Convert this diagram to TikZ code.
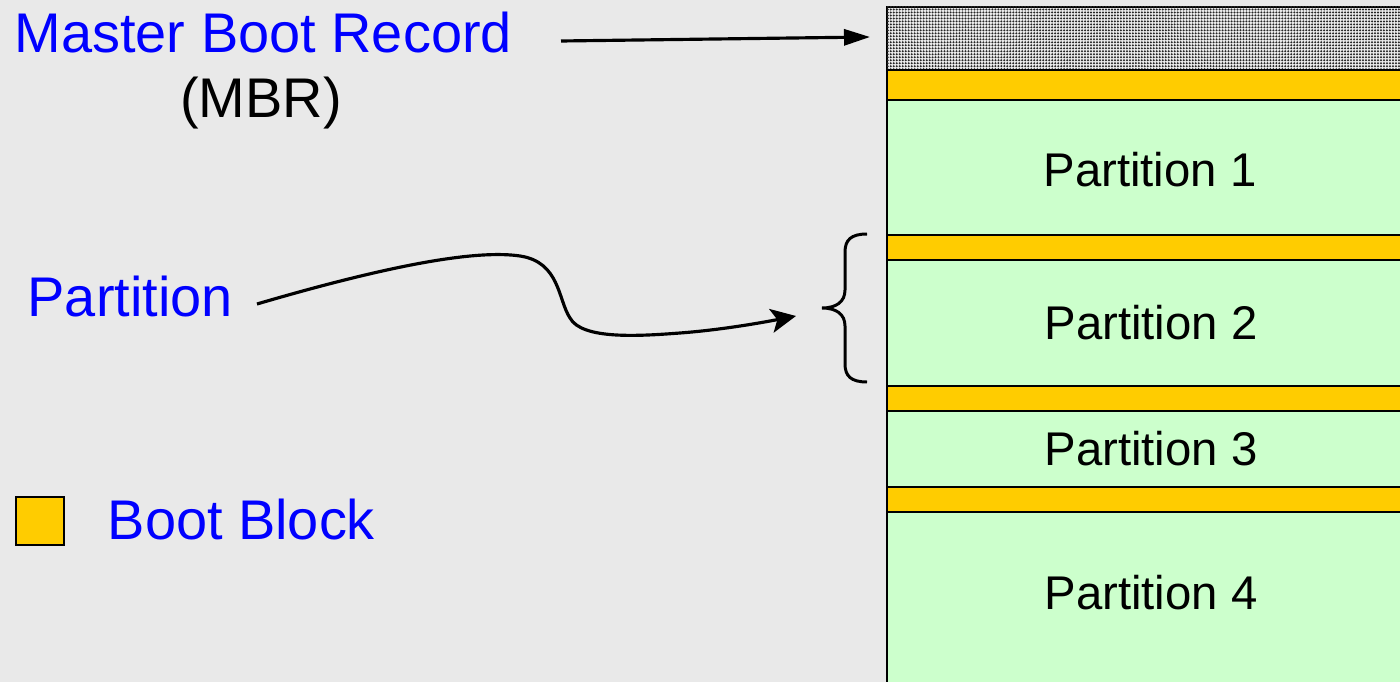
\documentclass[tikz,border=0pt]{standalone}
\usepackage{fontspec}
\setmainfont{Liberation Sans}
\usetikzlibrary{arrows.meta,fit,patterns.meta}
\definecolor{bg}{RGB}{233,233,233}
\definecolor{bootc}{RGB}{255,204,0}
\definecolor{partc}{RGB}{204,255,204}
\definecolor{lblue}{RGB}{0,0,255}
\begin{document}
\begin{tikzpicture}[x=0.01cm,y=-0.01cm,
  seg/.style={draw=black, line width=0.8pt, inner sep=0pt, outer sep=0pt},
  bootseg/.style={seg, fill=bootc},
  partseg/.style={seg, fill=partc},
  bluetxt/.style={text=lblue, font=\fontsize{15.9}{18}\selectfont, inner sep=0pt},
  blacktxt/.style={text=black, font=\fontsize{15.9}{18}\selectfont, inner sep=0pt},
  parttxt/.style={text=black, font=\fontsize{13.45}{16}\selectfont, inner sep=0pt, anchor=base},
  conn/.style={draw=black, line width=0.9pt},
  tipA/.style={-{Triangle[length=0.26cm,width=0.16cm]}},
  tipB/.style={-{Stealth[length=0.25cm,width=0.24cm,inset=0.06cm]}}]
\fill[bg] (0,0) rectangle (1400,682);
\useasboundingbox (0,0) rectangle (1400,682);
% disk column
\node[seg, fill=white!85!gray, postaction={pattern={Dots[distance=0.85pt,radius=0.32pt]}, pattern color=black!85}, fit={(887,7)(1420,70)}] (mbr) {};
\node[bootseg, fit={(887,70)(1420,100)}] (b1) {};
\node[partseg, fit={(887,100)(1420,235)}] (p1) {};
\node[bootseg, fit={(887,235)(1420,260)}] (b2) {};
\node[partseg, fit={(887,260)(1420,386)}] (p2) {};
\node[bootseg, fit={(887,386)(1420,411)}] (b3) {};
\node[partseg, fit={(887,411)(1420,487)}] (p3) {};
\node[bootseg, fit={(887,487)(1420,512)}] (b4) {};
\node[partseg, fit={(887,512)(1420,700)}] (p4) {};
\node[parttxt] (p1t) at (1150,186) {Partition 1};
\node[parttxt] (p2t) at (1151,339) {Partition 2};
\node[parttxt] (p3t) at (1151,465) {Partition 3};
\node[parttxt] (p4t) at (1151,609) {Partition 4};
% labels
\node[bluetxt, anchor=base west] (mbrl) at (14,53) {Master Boot Record};
\node[blacktxt, anchor=base] (mbrs) at (261,118) {(MBR)};
\node[bluetxt, anchor=base west] (partl) at (27,316) {Partition};
\node[draw=black, line width=0.8pt, fill=bootc, minimum size=0.48cm, inner sep=0pt] (legbox) at (40,521) {};
\node[bluetxt, anchor=base west] (legl) at (107,539) {Boot Block};
% brace around partition 2
\coordinate (brtip) at (822,308);
\draw[line width=0.85pt] (867,234) .. controls (851,234) and (845,240) .. (845,252) -- (845,290)
  .. controls (845,302) and (836,308) .. (brtip)
  .. controls (836,308) and (845,314) .. (845,326) -- (845,364)
  .. controls (845,376) and (851,382) .. (867,382);
% connectors
\coordinate (a1s) at (561,41);
\coordinate (a1e) at (870,37);
\draw[conn, tipA] (a1s) -- (a1e);
\coordinate (a2s) at (257,304);
\coordinate (a2e) at (796,316);
\draw[conn, tipB] (a2s) .. controls (400,262) and (480,250) .. (520,256)
  .. controls (560,262) and (558,300) .. (570,318)
  .. controls (582,340) and (640,336) .. (680,333)
  .. controls (720,330) and (760,323) .. (a2e);
\end{tikzpicture}
\end{document}
